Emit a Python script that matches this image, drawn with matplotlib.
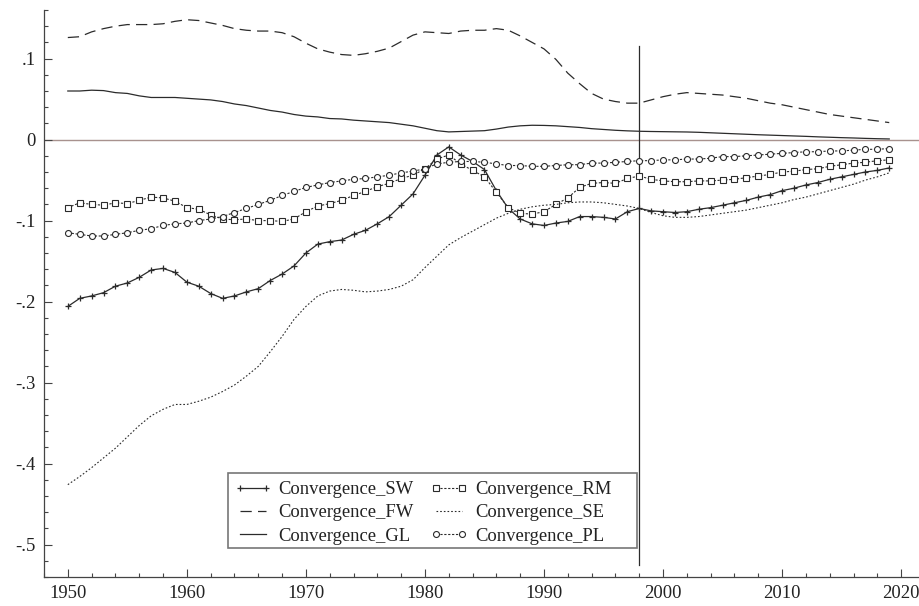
import numpy as np
import matplotlib
matplotlib.use("Agg")
from matplotlib import pyplot as plt
from matplotlib.patches import Rectangle
from matplotlib.ticker import MultipleLocator, FuncFormatter

plt.rcParams['font.family'] = ['Liberation Serif', 'DejaVu Serif']

years = list(range(1950, 2020))

conv_sw = [-0.206, -0.196, -0.193, -0.189, -0.181, -0.177, -0.170, -0.161, -0.159, -0.164,
           -0.176, -0.181, -0.190, -0.196, -0.193, -0.188, -0.184, -0.174, -0.166, -0.156,
           -0.140, -0.129, -0.126, -0.124, -0.117, -0.112, -0.104, -0.095, -0.081, -0.067,
           -0.044, -0.019, -0.009, -0.019, -0.027, -0.037, -0.063, -0.085, -0.098, -0.104,
           -0.106, -0.103, -0.101, -0.095, -0.095, -0.096, -0.098, -0.089, -0.085, -0.088,
           -0.089, -0.090, -0.089, -0.086, -0.084, -0.081, -0.078, -0.075, -0.071, -0.068,
           -0.063, -0.060, -0.056, -0.053, -0.049, -0.046, -0.043, -0.040, -0.038, -0.035]

conv_fw = [0.126, 0.127, 0.133, 0.137, 0.140, 0.142, 0.142, 0.142, 0.143, 0.146,
           0.148, 0.147, 0.144, 0.141, 0.137, 0.135, 0.134, 0.134, 0.132, 0.127,
           0.119, 0.112, 0.108, 0.105, 0.104, 0.106, 0.109, 0.113, 0.121, 0.129,
           0.133, 0.132, 0.131, 0.134, 0.135, 0.135, 0.137, 0.135, 0.128, 0.120,
           0.112, 0.099, 0.082, 0.069, 0.057, 0.050, 0.047, 0.045, 0.045, 0.049,
           0.053, 0.056, 0.058, 0.057, 0.056, 0.055, 0.053, 0.051, 0.048, 0.045,
           0.043, 0.040, 0.037, 0.034, 0.031, 0.029, 0.027, 0.025, 0.023, 0.021]

conv_gl = [0.060, 0.060, 0.061, 0.0605, 0.058, 0.057, 0.054, 0.052, 0.052, 0.052,
           0.051, 0.050, 0.049, 0.047, 0.044, 0.042, 0.039, 0.036, 0.034, 0.031,
           0.029, 0.028, 0.026, 0.0255, 0.024, 0.023, 0.022, 0.021, 0.019, 0.017,
           0.014, 0.011, 0.0095, 0.010, 0.0105, 0.011, 0.013, 0.0155, 0.017, 0.0177,
           0.0175, 0.017, 0.016, 0.015, 0.0135, 0.0125, 0.0115, 0.0108, 0.0103, 0.010,
           0.0098, 0.0096, 0.0094, 0.009, 0.0084, 0.0078, 0.0072, 0.0066, 0.006, 0.0055,
           0.005, 0.0045, 0.004, 0.0034, 0.0029, 0.0024, 0.002, 0.0015, 0.0011, 0.0008]

conv_rm = [-0.084, -0.078, -0.080, -0.081, -0.078, -0.079, -0.075, -0.071, -0.072, -0.076,
           -0.084, -0.086, -0.093, -0.098, -0.099, -0.098, -0.100, -0.100, -0.101, -0.098,
           -0.089, -0.082, -0.079, -0.075, -0.069, -0.064, -0.058, -0.054, -0.048, -0.044,
           -0.036, -0.024, -0.019, -0.030, -0.038, -0.046, -0.065, -0.084, -0.091, -0.092,
           -0.089, -0.080, -0.072, -0.059, -0.054, -0.053, -0.054, -0.048, -0.045, -0.049,
           -0.051, -0.052, -0.052, -0.051, -0.051, -0.050, -0.049, -0.047, -0.045, -0.043,
           -0.040, -0.039, -0.037, -0.036, -0.033, -0.031, -0.029, -0.028, -0.026, -0.025]

conv_se = [-0.426, -0.416, -0.405, -0.393, -0.381, -0.367, -0.353, -0.341, -0.333, -0.327,
           -0.327, -0.323, -0.318, -0.311, -0.303, -0.292, -0.280, -0.262, -0.243, -0.222,
           -0.206, -0.193, -0.187, -0.185, -0.186, -0.188, -0.187, -0.185, -0.181, -0.173,
           -0.158, -0.144, -0.130, -0.121, -0.113, -0.105, -0.097, -0.091, -0.086, -0.083,
           -0.081, -0.080, -0.078, -0.077, -0.077, -0.078, -0.080, -0.082, -0.085, -0.090,
           -0.094, -0.096, -0.096, -0.095, -0.093, -0.091, -0.089, -0.087, -0.084, -0.081,
           -0.078, -0.074, -0.071, -0.067, -0.063, -0.059, -0.055, -0.050, -0.046, -0.041]

conv_pl = [-0.115, -0.117, -0.119, -0.119, -0.117, -0.115, -0.112, -0.110, -0.106, -0.104,
           -0.103, -0.100, -0.098, -0.095, -0.090, -0.085, -0.080, -0.075, -0.069, -0.064,
           -0.059, -0.056, -0.053, -0.051, -0.049, -0.048, -0.046, -0.044, -0.041, -0.039,
           -0.036, -0.030, -0.028, -0.027, -0.027, -0.028, -0.030, -0.032, -0.032, -0.033,
           -0.033, -0.032, -0.031, -0.031, -0.029, -0.029, -0.028, -0.027, -0.026, -0.026,
           -0.025, -0.025, -0.024, -0.024, -0.023, -0.021, -0.021, -0.020, -0.019, -0.018,
           -0.017, -0.016, -0.015, -0.015, -0.014, -0.014, -0.013, -0.012, -0.012, -0.011]

break_year = 1998

dark = '#2b2b2b'
fig = plt.figure(figsize=(9.19, 6.06), dpi=100)
ax = fig.add_axes([44 / 919, 1 - 577 / 606, 875 / 919, 567 / 606])

ax.axhline(0, color='#a8928e', lw=1.0, zorder=1)
ax.plot([break_year, break_year], [0.115, -0.525], color=dark, lw=0.9, zorder=1)

ax.plot(years, conv_sw, color=dark, lw=0.9, marker='+', ms=5, mew=0.9,
        label='Convergence_SW')
ax.plot(years, conv_fw, color=dark, lw=0.9, ls=(0, (9, 5)), label='Convergence_FW')
ax.plot(years, conv_gl, color=dark, lw=0.9, label='Convergence_GL')
ax.plot(years, conv_rm, color=dark, lw=0.8, ls=(0, (2, 1.5)), marker='s', ms=4.3,
        mfc='white', mew=0.8, label='Convergence_RM')
ax.plot(years, conv_se, color=dark, lw=0.8, ls=(0, (1.5, 1.8)), label='Convergence_SE')
ax.plot(years, conv_pl, color=dark, lw=0.8, ls=(0, (2, 1.5)), marker='o', ms=4.3,
        mfc='white', mew=0.8, label='Convergence_PL')

ax.set_xlim(1948, 2021.5)
ax.set_ylim(-0.54, 0.16)
ax.xaxis.set_major_locator(MultipleLocator(10))
ax.xaxis.set_minor_locator(MultipleLocator(2))
ax.yaxis.set_major_locator(MultipleLocator(0.1))
ax.yaxis.set_minor_locator(MultipleLocator(0.02))


def short_fmt(v, pos):
    if abs(v) < 1e-9:
        return '0'
    s = '%.1f' % v
    return s.replace('0.', '.')


ax.yaxis.set_major_formatter(FuncFormatter(short_fmt))

for side in ['top', 'right']:
    ax.spines[side].set_visible(False)
for side in ['left', 'bottom']:
    ax.spines[side].set_color('#444444')
    ax.spines[side].set_linewidth(0.9)

ax.tick_params(which='both', direction='in', color='#444444', width=0.8,
               labelsize=13.4, labelcolor='#222222')
ax.tick_params(which='major', length=5.5, pad=6)
ax.tick_params(which='minor', length=2.8)

# legend box is wider than its contents, so draw the frame by hand
leg = ax.legend(ncol=2, loc='center left', bbox_to_anchor=(0.2171, 0.1129),
                borderaxespad=0, fontsize=13.4, frameon=False,
                handlelength=2.0, handletextpad=0.4, columnspacing=0.9,
                labelspacing=0.33, borderpad=0, numpoints=2)
for t in leg.get_texts():
    t.set_color('#222222')
ax.add_patch(Rectangle((0.21, 0.0511), 0.4675, 0.1323, transform=ax.transAxes,
                       facecolor='white', edgecolor='#777777', lw=1.2, zorder=4))
leg.set_zorder(5)

fig.savefig('out.png', dpi=100)
